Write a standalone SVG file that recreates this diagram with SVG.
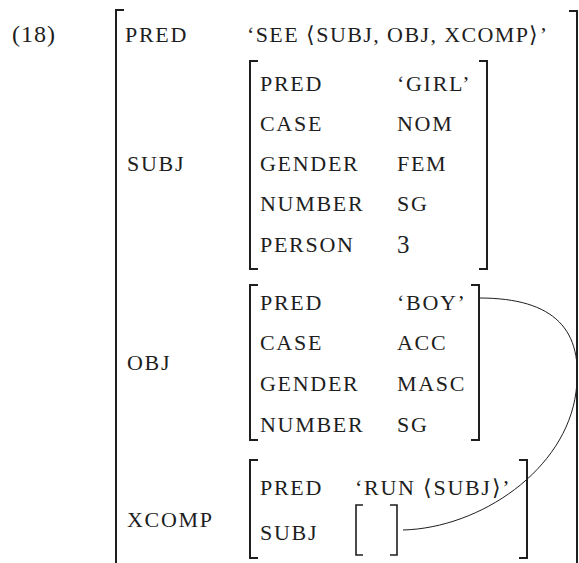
<svg xmlns="http://www.w3.org/2000/svg" width="579" height="563" viewBox="0 0 579 563">
<style>
text{font-family:"Liberation Serif","Times New Roman",serif;font-size:22px;fill:#1e1e1e;letter-spacing:1.7px}
.num{font-size:25px;letter-spacing:0}
.br{fill:none;stroke:#1e1e1e;stroke-width:2}
.conn{fill:none;stroke:#1e1e1e;stroke-width:1}
</style>
<rect width="579" height="563" fill="#fff"/>
<text x="12" y="42" style="font-size:24px;letter-spacing:1px">(18)</text>
<g id="fs-main">
<path class="br" d="M124,10 H116 V563"/>
<path class="br" d="M569,11 H577 V563"/>
<text x="125" y="42">PRED</text>
<text x="247" y="42" style="letter-spacing:1.4px">‘SEE ⟨SUBJ, OBJ, XCOMP⟩’</text>
<text x="127" y="171">SUBJ</text>
<text x="127" y="370">OBJ</text>
<text x="127" y="527">XCOMP</text>
</g>
<g id="fs-subj">
<path class="br" d="M258,61 H250 V269 H258"/>
<path class="br" d="M479,61 H487 V269 H479"/>
<text x="260" y="91">PRED</text><text x="397" y="91">‘GIRL’</text>
<text x="260" y="131">CASE</text><text x="397" y="131">NOM</text>
<text x="260" y="171">GENDER</text><text x="397" y="171">FEM</text>
<text x="260" y="211">NUMBER</text><text x="397" y="211">SG</text>
<text x="260" y="252">PERSON</text><text class="num" x="397" y="253">3</text>
</g>
<g id="fs-obj">
<path class="br" d="M258,285 H250 V440 H258"/>
<path class="br" d="M471,285 H479 V440 H471"/>
<text x="260" y="310">PRED</text><text x="397" y="310">‘BOY’</text>
<text x="260" y="350">CASE</text><text x="397" y="350">ACC</text>
<text x="260" y="391">GENDER</text><text x="397" y="391">MASC</text>
<text x="260" y="432">NUMBER</text><text x="397" y="432">SG</text>
</g>
<g id="fs-xcomp">
<path class="br" d="M258,460 H250 V558 H258"/>
<path class="br" d="M519,460 H527 V558 H519"/>
<text x="260" y="495">PRED</text><text x="355" y="495">‘RUN ⟨SUBJ⟩’</text>
<text x="260" y="540">SUBJ</text>
</g>
<g id="fs-xcomp-subj">
<path class="br" d="M363,505 H356 V555 H363" style="stroke-width:1.6"/>
<path class="br" d="M390,505 H397 V555 H390" style="stroke-width:1.6"/>
</g>
<g id="connectors">
<path class="conn" d="M479,298 C555,298 584,330 576,392 C566,470 480,528 403,530"/>
</g>
</svg>
